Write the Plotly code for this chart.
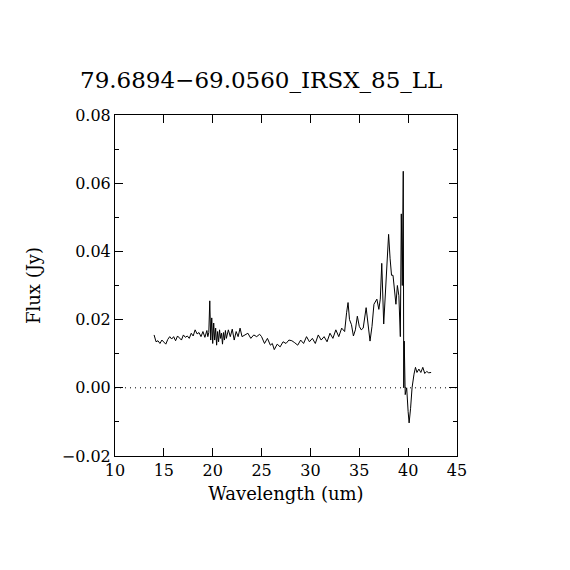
import plotly.graph_objects as go

title_text = "79.6894\u221269.0560_IRSX_85_LL"
x_label = "Wavelength (um)"
y_label = "Flux (Jy)"

wavelength = [
    14.0, 14.2, 14.4, 14.6, 14.8, 15.0, 15.2, 15.4, 15.6, 15.8,
    16.0, 16.2, 16.4, 16.6, 16.8, 17.0, 17.2, 17.4, 17.6, 17.8,
    18.0, 18.2, 18.4, 18.6, 18.8, 19.0, 19.2, 19.4, 19.5, 19.6,
    19.7, 19.8, 19.9, 20.0, 20.1, 20.2, 20.3, 20.4, 20.5, 20.6,
    20.7, 20.8, 20.9, 21.0, 21.1, 21.2, 21.3, 21.4, 21.6, 21.8,
    22.0, 22.2, 22.4, 22.6, 22.8, 23.0, 23.3, 23.6, 23.9, 24.2,
    24.5, 24.8, 25.0, 25.3, 25.6, 25.9, 26.1, 26.3, 26.6, 26.9,
    27.2, 27.5, 27.8, 28.1, 28.4, 28.7, 29.0, 29.3, 29.6, 29.9,
    30.2, 30.5, 30.8, 31.1, 31.4, 31.7, 32.0, 32.3, 32.6, 32.9,
    33.2, 33.5, 33.7, 33.85, 34.0, 34.2, 34.4, 34.6, 34.8, 35.0,
    35.2, 35.4, 35.7, 35.9, 36.1, 36.3, 36.5, 36.8, 37.0, 37.15,
    37.3, 37.5, 37.7, 37.9, 38.0, 38.15, 38.3, 38.45, 38.6, 38.75,
    38.9, 39.05, 39.2, 39.3, 39.4, 39.5, 39.55, 39.6, 39.7, 39.85,
    40.0, 40.1, 40.25, 40.4, 40.6, 40.75, 40.9, 41.1, 41.3, 41.5,
    41.7, 41.9, 42.1, 42.35,
]

flux = [
    0.0155, 0.0135, 0.0138, 0.0130, 0.0140, 0.0133, 0.0128, 0.0142, 0.0150, 0.0143,
    0.0150, 0.0138, 0.0152, 0.0146, 0.0140, 0.0155, 0.0148, 0.0152, 0.0145, 0.0160,
    0.0152, 0.0170, 0.0158, 0.0162, 0.0150, 0.0165, 0.0148, 0.0168, 0.0150, 0.0162,
    0.0255, 0.0140, 0.0205, 0.0130, 0.0190, 0.0140, 0.0175, 0.0125, 0.0165, 0.0135,
    0.0170, 0.0145, 0.0160, 0.0128, 0.0162, 0.0140, 0.0168, 0.0145, 0.0170, 0.0150,
    0.0172, 0.0140, 0.0165, 0.0150, 0.0175, 0.0150, 0.0155, 0.0160, 0.0145, 0.0155,
    0.0150, 0.0157, 0.0150, 0.0130, 0.0145, 0.0125, 0.0130, 0.0112, 0.0128, 0.0120,
    0.0135, 0.0130, 0.0140, 0.0138, 0.0132, 0.0125, 0.0140, 0.0130, 0.0150, 0.0135,
    0.0145, 0.0130, 0.0155, 0.0140, 0.0150, 0.0135, 0.0160, 0.0145, 0.0170, 0.0150,
    0.0175, 0.0165, 0.0220, 0.0250, 0.0200, 0.0185, 0.0152, 0.0170, 0.0210, 0.0180,
    0.0170, 0.0175, 0.0235, 0.0180, 0.0137, 0.0180, 0.0245, 0.0260, 0.0230, 0.0260,
    0.0365, 0.0187, 0.0300, 0.0420, 0.0450, 0.0380, 0.0330, 0.0330, 0.0280, 0.0245,
    0.0300, 0.0270, 0.0150, 0.0510, 0.0300, 0.0635, 0.0000, 0.0137, -0.0020, 0.0000,
    -0.0070, -0.0103, -0.0060, 0.0000, 0.0040, 0.0060, 0.0045, 0.0055, 0.0045, 0.0060,
    0.0042, 0.0048, 0.0044, 0.0045,
]

x_range = [10, 45]
y_range = [-0.02, 0.08]
zero_x = [10, 45]
zero_y = [0, 0]

font_family = "DejaVu Serif"

fig = go.Figure()
fig.add_trace(go.Scatter(x=zero_x, y=zero_y, mode="lines",
                         line=dict(color="black", width=1, dash="1px,4px"),
                         hoverinfo="skip", showlegend=False))
fig.add_trace(go.Scatter(x=wavelength, y=flux, mode="lines",
                         line=dict(color="black", width=1),
                         showlegend=False))

fig.update_layout(
    width=570, height=570,
    paper_bgcolor="white", plot_bgcolor="white",
    margin=dict(l=107, r=121, t=107, b=122, autoexpand=False),
    font=dict(family=font_family, color="black", size=16),
    showlegend=False,
    annotations=[
        dict(text=title_text, xref="paper", yref="paper", x=-0.108, y=1.058,
             xanchor="left", yanchor="bottom", showarrow=False,
             font=dict(size=23, family=font_family, color="black")),
    ],
)

fig.update_xaxes(
    range=x_range, dtick=5, tick0=10, ticks="inside", ticklen=8,
    tickcolor="black", tickwidth=1, showline=True, linecolor="black",
    linewidth=1, mirror="allticks", showgrid=False, zeroline=False,
    title=dict(text=x_label, standoff=8, font=dict(size=18)),
    tickfont=dict(size=16),
)
fig.update_yaxes(
    range=y_range, dtick=0.02, tick0=0, tickformat=".2f", ticks="inside",
    ticklen=8, tickcolor="black", tickwidth=1, showline=True,
    linecolor="black", linewidth=1, mirror="allticks", showgrid=False,
    zeroline=False,
    minor=dict(dtick=0.01, ticks="inside", ticklen=4, tickcolor="black", showgrid=False),
    title=dict(text=y_label, standoff=16, font=dict(size=18)),
    tickfont=dict(size=16),
)

fig.write_html("out.html")
